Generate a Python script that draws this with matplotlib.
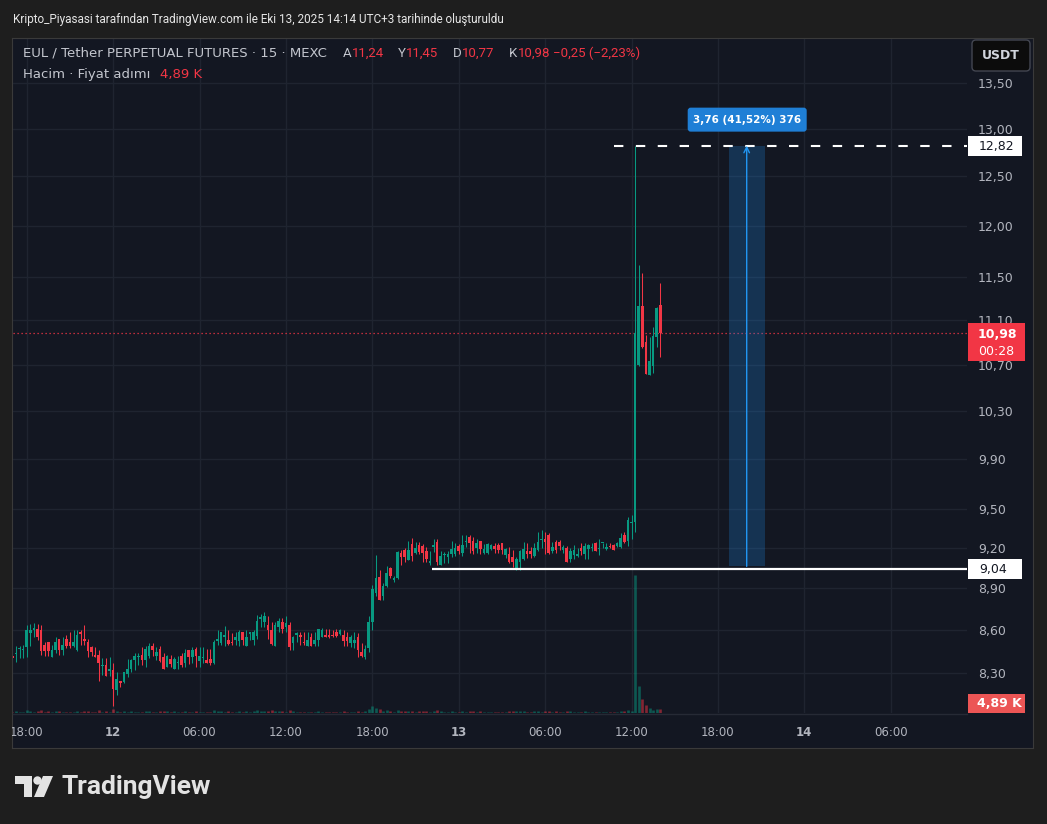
import numpy as np
import pandas as pd
import matplotlib.pyplot as plt
import matplotlib.ticker as mticker
from matplotlib.collections import LineCollection
from matplotlib.colors import to_rgba
from matplotlib.patches import Rectangle, FancyBboxPatch, Circle, Polygon
from matplotlib.transforms import blended_transform_factory

plt.rcParams['font.family'] = ['DejaVu Sans']

# EUL/USDT perpetual, MEXC, 15 min candles (UTC+3)
times = pd.date_range('2025-10-11 17:00', periods=181, freq='15min')

opens = [8.416, 8.430, 8.461, 8.458, 8.475, 8.573, 8.596, 8.603, 8.596, 8.491,
         8.510, 8.409, 8.456, 8.533, 8.456, 8.533, 8.510, 8.486, 8.456, 8.580,
         8.533, 8.510, 8.475, 8.421, 8.421, 8.345, 8.352, 8.313, 8.318, 8.181,
         8.242, 8.237, 8.290, 8.324, 8.386, 8.405, 8.421, 8.384, 8.416, 8.486,
         8.416, 8.463, 8.409, 8.340, 8.393, 8.324, 8.367, 8.416, 8.363, 8.456,
         8.409, 8.463, 8.381, 8.398, 8.386, 8.393, 8.363, 8.521, 8.503, 8.549,
         8.526, 8.514, 8.526, 8.521, 8.580, 8.486, 8.568, 8.526, 8.556, 8.676,
         8.655, 8.631, 8.596, 8.486, 8.620, 8.655, 8.615, 8.631, 8.507, 8.561,
         8.561, 8.514, 8.486, 8.544, 8.498, 8.526, 8.544, 8.561, 8.561, 8.561,
         8.584, 8.568, 8.561, 8.549, 8.503, 8.503, 8.549, 8.444, 8.409, 8.470,
         8.655, 8.862, 8.984, 8.840, 8.914, 9.045, 8.959, 8.971, 9.160, 9.183,
         9.107, 9.228, 9.160, 9.220, 9.215, 9.172, 9.082, 9.208, 9.245, 9.068,
         9.143, 9.130, 9.155, 9.155, 9.215, 9.160, 9.245, 9.280, 9.253, 9.200,
         9.253, 9.160, 9.160, 9.188, 9.215, 9.220, 9.233, 9.143, 9.155, 9.130,
         9.045, 9.095, 9.118, 9.178, 9.172, 9.140, 9.183, 9.258, 9.265, 9.300,
         9.172, 9.245, 9.245, 9.183, 9.196, 9.118, 9.143, 9.140, 9.196, 9.155,
         9.188, 9.196, 9.240, 9.188, 9.233, 9.188, 9.215, 9.220, 9.215, 9.208,
         9.300, 9.253, 9.388, 9.400, 10.70, 11.23, 10.90, 10.61, 10.69, 10.95,
         11.24]
highs = [8.420, 8.484, 8.484, 8.491, 8.631, 8.642, 8.649, 8.642, 8.631, 8.510,
         8.512, 8.491, 8.544, 8.536, 8.549, 8.561, 8.584, 8.596, 8.596, 8.596,
         8.631, 8.533, 8.486, 8.479, 8.456, 8.398, 8.398, 8.409, 8.367, 8.307,
         8.244, 8.307, 8.393, 8.393, 8.437, 8.437, 8.479, 8.486, 8.507, 8.507,
         8.479, 8.486, 8.433, 8.421, 8.421, 8.409, 8.416, 8.433, 8.463, 8.456,
         8.479, 8.479, 8.479, 8.479, 8.463, 8.463, 8.526, 8.596, 8.584, 8.624,
         8.596, 8.573, 8.584, 8.596, 8.582, 8.596, 8.584, 8.596, 8.703, 8.711,
         8.722, 8.697, 8.655, 8.650, 8.680, 8.680, 8.697, 8.655, 8.556, 8.580,
         8.580, 8.580, 8.580, 8.573, 8.580, 8.603, 8.610, 8.603, 8.603, 8.596,
         8.603, 8.603, 8.596, 8.580, 8.561, 8.580, 8.573, 8.503, 8.491, 8.697,
         8.922, 9.144, 9.033, 8.939, 9.063, 9.058, 8.990, 9.172, 9.183, 9.196,
         9.253, 9.278, 9.245, 9.245, 9.228, 9.205, 9.178, 9.270, 9.265, 9.172,
         9.167, 9.178, 9.253, 9.240, 9.228, 9.300, 9.300, 9.300, 9.280, 9.270,
         9.255, 9.228, 9.240, 9.228, 9.233, 9.233, 9.240, 9.200, 9.205, 9.183,
         9.130, 9.183, 9.245, 9.240, 9.205, 9.233, 9.320, 9.333, 9.320, 9.310,
         9.245, 9.260, 9.260, 9.220, 9.210, 9.196, 9.220, 9.196, 9.233, 9.233,
         9.228, 9.240, 9.245, 9.265, 9.240, 9.240, 9.233, 9.225, 9.245, 9.315,
         9.320, 9.440, 9.455, 12.82, 11.62, 11.54, 10.97, 10.95, 11.04, 11.22,
         11.45]
lows = [8.400, 8.374, 8.398, 8.398, 8.409, 8.486, 8.549, 8.526, 8.421, 8.416,
        8.416, 8.405, 8.433, 8.421, 8.421, 8.468, 8.468, 8.475, 8.452, 8.491,
        8.491, 8.409, 8.416, 8.405, 8.244, 8.283, 8.276, 8.276, 8.077, 8.148,
        8.203, 8.226, 8.271, 8.303, 8.318, 8.352, 8.352, 8.340, 8.398, 8.416,
        8.386, 8.370, 8.324, 8.335, 8.340, 8.324, 8.324, 8.340, 8.340, 8.358,
        8.363, 8.335, 8.335, 8.363, 8.363, 8.352, 8.358, 8.491, 8.491, 8.486,
        8.491, 8.491, 8.491, 8.486, 8.491, 8.484, 8.526, 8.491, 8.533, 8.615,
        8.620, 8.533, 8.491, 8.486, 8.584, 8.573, 8.580, 8.456, 8.456, 8.514,
        8.491, 8.491, 8.486, 8.486, 8.486, 8.486, 8.544, 8.544, 8.540, 8.545,
        8.549, 8.561, 8.486, 8.486, 8.479, 8.468, 8.409, 8.409, 8.393, 8.440,
        8.596, 8.838, 8.812, 8.812, 8.910, 8.971, 8.947, 8.966, 9.068, 9.095,
        9.107, 9.102, 9.150, 9.150, 9.095, 9.095, 9.070, 9.167, 9.068, 9.068,
        9.082, 9.082, 9.130, 9.140, 9.150, 9.135, 9.208, 9.160, 9.150, 9.160,
        9.150, 9.150, 9.150, 9.180, 9.160, 9.160, 9.155, 9.125, 9.082, 9.058,
        9.033, 9.033, 9.110, 9.120, 9.120, 9.130, 9.172, 9.200, 9.155, 9.150,
        9.160, 9.160, 9.180, 9.160, 9.095, 9.095, 9.118, 9.130, 9.143, 9.118,
        9.118, 9.172, 9.172, 9.143, 9.196, 9.180, 9.196, 9.183, 9.208, 9.196,
        9.233, 9.215, 9.265, 9.320, 10.69, 10.85, 10.62, 10.61, 10.63, 10.86,
        10.77]
closes = [8.402, 8.437, 8.468, 8.465, 8.596, 8.596, 8.608, 8.549, 8.451, 8.451,
          8.451, 8.456, 8.510, 8.456, 8.491, 8.486, 8.486, 8.510, 8.561, 8.568,
          8.521, 8.451, 8.440, 8.409, 8.367, 8.349, 8.278, 8.324, 8.188, 8.256,
          8.230, 8.302, 8.324, 8.386, 8.416, 8.416, 8.386, 8.463, 8.486, 8.456,
          8.444, 8.382, 8.324, 8.414, 8.358, 8.393, 8.374, 8.352, 8.433, 8.409,
          8.456, 8.416, 8.416, 8.409, 8.363, 8.363, 8.514, 8.533, 8.580, 8.561,
          8.498, 8.503, 8.549, 8.580, 8.526, 8.549, 8.580, 8.580, 8.662, 8.688,
          8.697, 8.596, 8.498, 8.631, 8.662, 8.603, 8.643, 8.479, 8.544, 8.573,
          8.549, 8.503, 8.526, 8.486, 8.526, 8.603, 8.596, 8.544, 8.544, 8.554,
          8.556, 8.596, 8.521, 8.521, 8.544, 8.526, 8.456, 8.416, 8.463, 8.655,
          8.892, 8.971, 8.812, 8.914, 9.008, 8.986, 8.971, 9.167, 9.130, 9.130,
          9.183, 9.140, 9.196, 9.167, 9.160, 9.118, 9.102, 9.220, 9.095, 9.135,
          9.155, 9.155, 9.192, 9.200, 9.172, 9.220, 9.253, 9.235, 9.172, 9.240,
          9.188, 9.188, 9.228, 9.220, 9.188, 9.183, 9.183, 9.188, 9.090, 9.090,
          9.118, 9.178, 9.188, 9.155, 9.155, 9.196, 9.245, 9.265, 9.245, 9.160,
          9.205, 9.183, 9.215, 9.205, 9.095, 9.178, 9.183, 9.155, 9.172, 9.215,
          9.220, 9.208, 9.178, 9.196, 9.240, 9.205, 9.208, 9.183, 9.240, 9.278,
          9.245, 9.414, 9.401, 10.98, 11.23, 10.86, 10.62, 10.73, 10.96, 11.21,
          10.98]
# volume in thousands
volumes = [1.5, 1.8, 1.2, 1.4, 3.0, 2.0, 1.5, 1.8, 3.2, 1.6,
           1.9, 1.5, 1.7, 1.8, 1.4, 1.6, 1.3, 1.5, 2.2, 1.3,
           1.7, 2.4, 1.6, 1.2, 3.4, 1.5, 2.2, 1.4, 4.2, 2.8,
           1.2, 1.9, 1.6, 2.0, 1.5, 1.3, 1.6, 2.0, 1.7, 1.4,
           1.3, 2.1, 2.0, 1.8, 1.4, 1.7, 1.2, 1.6, 1.8, 1.5,
           1.6, 1.8, 1.5, 1.3, 1.4, 1.5, 3.8, 1.9, 2.2, 1.6,
           1.7, 1.3, 1.5, 1.8, 1.6, 1.7, 1.2, 1.9, 3.2, 1.8,
           2.0, 2.1, 2.9, 2.6, 1.7, 1.8, 1.6, 3.0, 1.8, 1.3,
           1.4, 1.5, 1.4, 1.6, 1.5, 1.9, 1.4, 1.2, 1.2, 1.1,
           1.3, 1.2, 1.7, 1.4, 1.5, 1.6, 2.3, 1.6, 1.8, 4.6,
           7.5, 5.2, 4.0, 2.6, 3.1, 2.2, 1.6, 3.6, 2.0, 1.8,
           2.2, 2.4, 1.6, 1.7, 1.8, 1.7, 1.5, 2.0, 3.0, 2.8,
           1.4, 1.5, 1.9, 1.6, 1.5, 2.1, 1.4, 1.9, 2.0, 1.6,
           1.7, 1.3, 1.6, 1.2, 1.3, 1.4, 1.4, 1.5, 2.0, 1.7,
           2.1, 2.2, 2.0, 1.4, 1.3, 1.7, 2.4, 1.6, 2.1, 2.6,
           1.5, 1.8, 1.4, 1.3, 2.2, 1.8, 1.6, 1.2, 1.4, 1.7,
           1.5, 1.2, 1.6, 1.3, 1.1, 1.3, 1.2, 1.4, 1.5, 2.3,
           2.1, 3.0, 2.4, 156.0, 30.5, 16.3, 8.8, 6.1, 3.8, 4.9,
           4.89]

price_ticks = [13.5, 13.0, 12.5, 12.0, 11.5, 11.1, 10.7, 10.3, 9.9, 9.5, 9.2, 8.9, 8.6, 8.3]
price_labels = ['13,50', '13,00', '12,50', '12,00', '11,50', '11,10', '10,70',
                '10,30', '9,90', '9,50', '9,20', '8,90', '8,60', '8,30']
time_ticks = ['2025-10-11 18:00', '2025-10-12 00:00', '2025-10-12 06:00', '2025-10-12 12:00',
              '2025-10-12 18:00', '2025-10-13 00:00', '2025-10-13 06:00', '2025-10-13 12:00',
              '2025-10-13 18:00', '2025-10-14 00:00', '2025-10-14 06:00']
time_labels = ['18:00', '12', '06:00', '12:00', '18:00', '13', '06:00', '12:00', '18:00', '14', '06:00']

last_price = 10.98
support = 9.04
support_from = '2025-10-12 22:10'
top_mark = 12.82
top_from = '2025-10-13 10:45'
measure_lo, measure_hi = 9.06, 12.82
measure_from, measure_to = '2025-10-13 18:45', '2025-10-13 21:15'

GREEN = '#089981'
RED = '#f23645'
BG = '#131722'
GRID = '#1f2430'
AXTXT = '#b2b5be'

W, H = 1047, 824
fig = plt.figure(figsize=(W / 100, H / 100), dpi=100, facecolor='#1e1e1e')


def frac(x0, y0, x1, y1):
    return [x0 / W, 1 - y1 / H, (x1 - x0) / W, (y1 - y0) / H]


def tidx(t):
    return (pd.Timestamp(t) - times[0]) / pd.Timedelta('15min')


# chart frame
bg = fig.add_axes(frac(12, 38, 1033, 748), zorder=-1)
bg.set_facecolor(BG)
bg.set_xticks([])
bg.set_yticks([])
for s in bg.spines.values():
    s.set_color('#3a3a3a')

ax = fig.add_axes(frac(13, 39, 967, 713), zorder=1)
ax.set_facecolor('none')
ax.set_yscale('log')
xl = ((13 - 12.3) / 3.6, (967 - 12.3) / 3.6)
yl = (13.5 * np.exp(-(713 - 83) / 1212), 13.5 * np.exp((83 - 39) / 1212))

x = np.arange(len(closes))
o = np.array(opens)
h = np.array(highs)
l = np.array(lows)
c = np.array(closes)
up = c >= o
cols = np.where(up, GREEN, RED)

# volume overlay at the bottom of the pane
vtop = max(volumes) * 674 / 138
tv = blended_transform_factory(ax.transData, ax.transAxes)
segs = [[(xi, 0), (xi, v / vtop)] for xi, v in zip(x, volumes)]
vcols = [to_rgba(cc, 0.5) for cc in cols]
ax.add_collection(LineCollection(segs, colors=vcols, linewidths=1.9, transform=tv,
                                 zorder=1, capstyle='butt'), autolim=False)

# candles
ax.vlines(x, l, h, colors=cols, lw=0.75, zorder=3)
lo = np.minimum(o, c)
ax.bar(x, np.maximum(np.abs(c - o), lo * 0.0009), bottom=lo, width=0.74,
       color=cols, linewidth=0, zorder=4)

ax.axhline(last_price, color=RED, lw=0.9, ls=(0, (1, 2.2)), zorder=2)
ax.hlines(support, tidx(support_from), xl[1], colors='white', lw=1.6, zorder=5)
ax.hlines(top_mark, tidx(top_from), xl[1], colors='white', lw=1.5,
          linestyles=[(0, (4.5, 6))], zorder=5)

# price range measure
m0, m1 = tidx(measure_from), tidx(measure_to)
ax.add_patch(Rectangle((m0, measure_lo), m1 - m0, measure_hi - measure_lo,
                       fc='#1e88e5', alpha=0.25, ec='none', zorder=2))
mc = (m0 + m1) / 2
ax.annotate('', xy=(mc, measure_hi), xytext=(mc, measure_lo),
            arrowprops=dict(arrowstyle='->', color='#2196f3', lw=1, shrinkA=0, shrinkB=0,
                            mutation_scale=10), zorder=6)

ax.set_xlim(*xl)
ax.set_ylim(*yl)
ax.set_xticks([tidx(t) for t in time_ticks])
ax.set_xticklabels(time_labels)
for lbl in ax.get_xticklabels():
    if len(lbl.get_text()) == 2:
        lbl.set_fontweight('bold')
    lbl.set_clip_on(True)
    lbl.set_clip_box(bg.bbox)
ax.yaxis.tick_right()
ax.set_yticks(price_ticks)
ax.set_yticklabels(price_labels)
ax.yaxis.set_minor_locator(mticker.NullLocator())
ax.yaxis.set_minor_formatter(mticker.NullFormatter())
ax.tick_params(axis='x', length=0, pad=9, labelcolor=AXTXT, labelsize=8.5)
ax.tick_params(axis='y', length=0, pad=8, labelcolor=AXTXT, labelsize=9)
ax.set_axisbelow(True)
ax.grid(True, color=GRID, lw=1)
for s in ax.spines.values():
    s.set_visible(False)


def py(p):
    return H - ax.transData.transform((0, p))[1]


def px(i):
    return ax.transData.transform((i, 10))[0]


# overlay for labels, header and logo
ov = fig.add_axes([0, 0, 1, 1], zorder=5)
ov.set_xlim(0, W)
ov.set_ylim(H, 0)
ov.axis('off')
renderer = fig.canvas.get_renderer()

ov.plot([13, 967], [713.5, 713.5], color='#262a35', lw=1)

# right scale labels
for p, txt in [(top_mark, '12,82'), (support, '9,04')]:
    y = py(p)
    ov.add_patch(Rectangle((968, y - 10), 54, 20, fc='white', ec='none'))
    ov.text(979, y + 0.5, txt, color=BG, fontsize=9, va='center', ha='left')
y = py(last_price)
ov.add_patch(Rectangle((968, y - 10), 57, 38, fc=RED, ec='none'))
ov.text(978, y + 1.5, '10,98', color='white', fontsize=9, fontweight='bold', va='center')
ov.text(978, y + 18, '00:28', color='white', fontsize=9, va='center')
ov.add_patch(Rectangle((968, 694), 57, 19, fc='#ec5555', ec='none'))
ov.text(977, 703.5, '4,89 K', color='white', fontsize=9, fontweight='bold', va='center')

# measure label
ov.add_patch(FancyBboxPatch((px(mc) - 59, py(measure_hi) - 38), 119, 24,
                            boxstyle='round,pad=0,rounding_size=3', fc='#1f7fd6', ec='none'))
ov.text(px(mc), py(measure_hi) - 26, '3,76 (41,52%) 376', color='white', fontsize=7.5,
        fontweight='bold', ha='center', va='center')

# USDT button
ov.add_patch(FancyBboxPatch((972, 40), 58, 31, boxstyle='round,pad=0,rounding_size=4',
                            fc='#0c0c0c', ec='#434651', lw=1))
ov.text(1001, 55.5, 'USDT', color='#d1d4dc', fontsize=9, fontweight='bold',
        ha='center', va='center')

# title and legend rows
ov.text(13, 19, 'Kripto_Piyasasi tarafından TradingView.com ile Eki 13, 2025 14:14 UTC+3 '
        'tarihinde oluşturuldu', color='#e6e6e6', fontsize=8.5, va='center',
        family=['Roboto', 'DejaVu Sans'])
HEAD = '#c3c6ce'
ROB = ['Roboto', 'DejaVu Sans']


def put(xp, yp, s, color, size=9.5, family=None):
    t = ov.text(xp, yp, s, color=color, fontsize=size, va='center', family=family)
    return t.get_window_extent(renderer).x1


put(23, 53, 'EUL / Tether PERPETUAL FUTURES · 15 · MEXC', HEAD)
for lx, letter, num in [(343, 'A', '11,24'), (398, 'Y', '11,45'),
                        (453, 'D', '10,77'), (509, 'K', '10,98')]:
    end = put(lx, 53, letter, HEAD, family=ROB)
    put(end + 0.5, 53, num, RED, family=ROB)
put(553, 53, '−0,25 (−2,23%)', RED, family=ROB)
put(23, 74, 'Hacim · Fiyat adımı', HEAD)
put(160, 74, '4,89 K', RED)

# TradingView logo
LOGO = '#e3e3e3'
ov.add_patch(Polygon([(15, 776), (32, 776), (32, 797), (24, 797), (24, 784), (15, 784)],
                     closed=True, fc=LOGO, ec='none'))
ov.add_patch(Circle((37.5, 780.5), 4.2, fc=LOGO, ec='none'))
ov.add_patch(Polygon([(43, 776), (53, 776), (44, 797), (34, 797)], closed=True, fc=LOGO, ec='none'))
ov.text(61, 787, 'TradingView', color=LOGO, fontsize=19, fontweight='bold', va='center',
        family=['Roboto', 'DejaVu Sans'])

fig.savefig('out.png', dpi=100, facecolor=fig.get_facecolor())
